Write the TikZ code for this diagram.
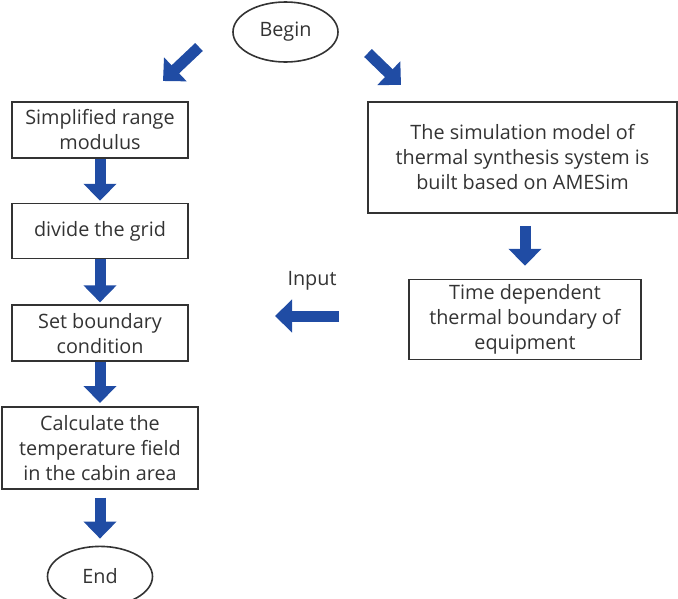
\documentclass[tikz,border=0pt]{standalone}
\usepackage{fontspec}
\setmainfont{Open Sans}
\usetikzlibrary{positioning}
\usetikzlibrary{arrows.meta}
\usetikzlibrary{shapes.geometric}
\definecolor{flowblue}{RGB}{32,76,164}
\definecolor{inkgray}{RGB}{51,51,51}
\tikzset{
  stepbox/.style={draw=inkgray
                 ,line width=1.6pt
                 ,text=inkgray
                 ,align=center
                 ,inner sep=0pt
                 ,font=\fontsize{19.8}{25}\selectfont},
  terminal/.style={ellipse
                  ,draw=inkgray
                  ,line width=1.6pt
                  ,text=inkgray
                  ,minimum width=105pt
                  ,minimum height=60pt
                  ,inner sep=0pt
                  ,font=\fontsize{19.8}{25}\selectfont},
  fat/.style={draw
             ,color=flowblue
             ,line width=11pt
             ,-{Triangle[length=17pt,width=32pt]}}
}
\begin{document}
\begin{tikzpicture}[x=1pt,y=-1pt]
\useasboundingbox (0,0) rectangle (678,598);
  \node[terminal] (begin) at (285.5,32) {Begin};
  % left column
  \node[stepbox,minimum width=176pt,minimum height=56pt] (simp) at (100,130)
       {Simplified range\\modulus};
  \node[stepbox,minimum width=176pt,minimum height=55pt,below=44pt of simp] (grid)
       {divide the grid};
  \node[stepbox,minimum width=176pt,minimum height=56pt,below=45pt of grid] (bound)
       {Set boundary\\condition};
  \node[stepbox,minimum width=196pt,minimum height=82pt,below=44pt of bound] (calc)
       {Calculate the\\temperature field\\in the cabin area};
  \node[terminal,below=56pt of calc] (end) {End};
  % right column
  \node[stepbox,minimum width=309pt,minimum height=111pt] (model) at (522.5,157.5)
       {The simulation model of\\thermal synthesis system is\\built based on AMESim};
  \node[stepbox,minimum width=232pt,minimum height=80pt,below=65pt of model,xshift=2.5pt] (tdep)
       {Time dependent\\thermal boundary of\\equipment};
  \node[text=inkgray,font=\fontsize{19.8}{25}\selectfont] (input) at (312,281) {Input};
  % free arrow ends
  \coordinate (bl) at (199,47);
  \coordinate (blTip) at (163,81);
  \coordinate (br) at (368,53);
  \coordinate (brTip) at (401,85);
  \coordinate (inStart) at (339,316);
  \coordinate (inTip) at (275,316);
  \path[every edge/.style=fat]
    (bl) edge (blTip)
    (br) edge (brTip)
    (simp) edge[shorten >=2pt] (grid)
    (grid) edge[shorten >=2pt] (bound)
    (bound) edge[shorten >=3pt] (calc)
    (calc) edge[shorten <=8pt,shorten >=7pt] (end)
    (model.south -| tdep.north) edge[shorten <=12pt,shorten >=13pt] (tdep.north)
    (inStart) edge (inTip)
    ;
\end{tikzpicture}
\end{document}
